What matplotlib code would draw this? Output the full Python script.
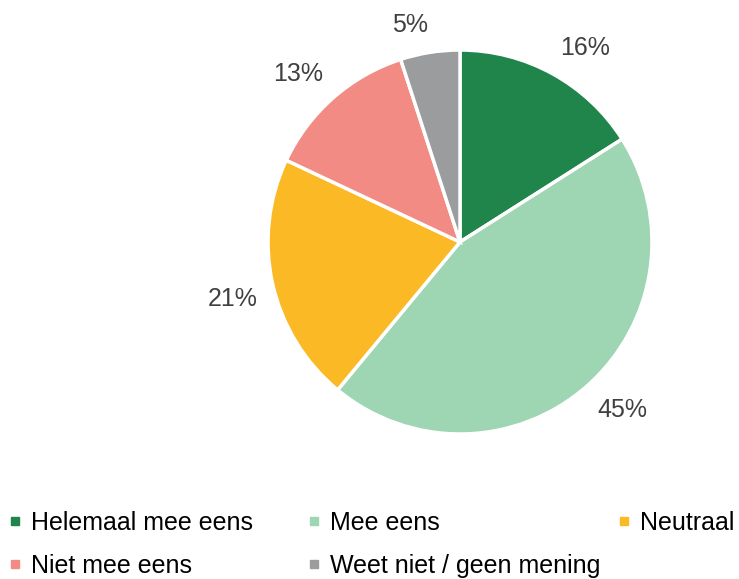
import numpy as np
import matplotlib.pyplot as plt
from matplotlib.lines import Line2D

plt.rcParams['font.family'] = ['Liberation Sans', 'DejaVu Sans']

# data
categories = ["Helemaal mee eens", "Mee eens", "Neutraal", "Niet mee eens", "Weet niet / geen mening"]
values = [16, 45, 21, 13, 5]
colors = ["#20854a", "#9ed5b3", "#fbb925", "#f28b83", "#9a9c9d"]

W, H = 739, 579
fig = plt.figure(figsize=(W / 100, H / 100), dpi=100)

# pie axes: centre (460, 242), radius 192 px
cx, cy, r = 460, 242, 192
ax = fig.add_axes([(cx - r) / W, 1 - (cy + r) / H, 2 * r / W, 2 * r / H])
wedges, texts, autotexts = ax.pie(values, colors=colors, startangle=90, counterclock=False,
                                  autopct="%d%%", pctdistance=1.08,
                                  wedgeprops=dict(edgecolor="white", linewidth=2.5),
                                  textprops=dict(fontsize=18, color="#404040"))
ax.set_xlim(-1, 1)
ax.set_ylim(-1, 1)
ax.set_aspect("equal")

# labels "outside end": anchor the corner of the text nearest the pie
for w, t in zip(wedges, autotexts):
    ang = np.deg2rad((w.theta1 + w.theta2) / 2)
    c, s = np.cos(ang), np.sin(ang)
    t.set_ha("left" if c > 0.15 else ("right" if c < -0.15 else "center"))
    t.set_va("bottom" if s > 0.15 else ("top" if s < -0.15 else "center"))

# legend, laid out in columns like the original
handles = [Line2D([], [], marker="s", linestyle="", markersize=6, color=c) for c in colors]
cols = [([0, 3], 7), ([1, 4], 306), ([2], 616)]
for idx, x in cols:
    fig.legend([handles[i] for i in idx], [categories[i] for i in idx],
               loc="upper left", bbox_to_anchor=(x / W, 1 - 511 / H),
               frameon=False, fontsize=18, handlelength=0.6, handletextpad=0.35,
               labelspacing=0.75, borderaxespad=0, borderpad=0)

fig.savefig("out.png", dpi=100)
